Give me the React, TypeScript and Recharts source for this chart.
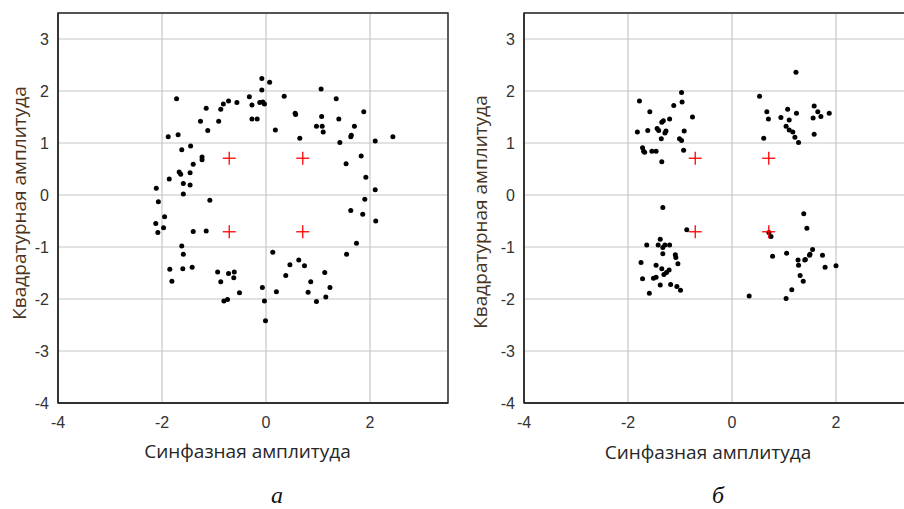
import React from 'react';
import { ScatterChart, Scatter, XAxis, YAxis, CartesianGrid, ReferenceArea } from 'recharts';

// ---------- data ----------
const xTicks = [-4, -2, 0, 2];
const yTicks = [-4, -3, -2, -1, 0, 1, 2, 3];
const axisDomain: [number, number] = [-4, 3.5];

const xLabel = 'Синфазная амплитуда';
const yLabel = 'Квадратурная амплитуда';
const captionA = 'а';
const captionB = 'б';

// ideal QPSK constellation points
const refI = [-0.707, 0.707, -0.707, 0.707];
const refQ = [0.707, 0.707, -0.707, -0.707];

// panel a: received symbols (in-phase / quadrature)
const aI = [
  -2.11, -2.07, -2.12, -2.08, -1.97, -1.95, -1.72, -1.88, -1.69, -1.62,
  -1.86, -1.67, -1.64, -1.59, -1.59, -1.46, -1.46, -1.4, -1.45, -1.23,
  -1.23, -1.26, -1.15, -1.12, -1.08, -1.4, -1.15, -1.62, -1.59, -0.91,
  -0.87, -0.82, -0.72, -0.56, -0.32, -0.27, -0.27, -0.17, -0.08, -0.08,
  -0.12, -0.06, -0.03, 0.07, 0.18, 0.35, 0.56, 0.57, 0.65, 1.06,
  1.07, 0.97, 1.08, 1.1, 1.35, 1.4, 1.42, 1.63, 1.64, 1.7,
  1.88, 2.1, 2.44, 1.54, 1.83, 1.92, 2.1, 1.9, 1.63, 1.86,
  2.11, 1.74, 1.55, 0.13, 0.63, -1.85, -1.81, -1.6, -1.42, -0.93,
  -0.87, -0.72, -0.61, -0.62, -0.51, -0.81, -0.74, -0.07, -0.03, -0.01,
  0.2, 0.38, 0.46, 0.74, 0.86, 0.81, 0.97, 1.13, 1.15, 1.23,
];
const aQ = [
  0.13, -0.13, -0.55, -0.72, -0.63, -0.42, 1.85, 1.12, 1.16, 0.87,
  0.31, 0.44, 0.4, 0.22, 0.02, 0.43, 0.19, 0.59, 0.94, 0.73,
  0.68, 1.42, 1.67, 1.24, -0.1, -0.7, -0.69, -0.98, -1.14, 1.42,
  1.65, 1.75, 1.81, 1.78, 1.89, 1.73, 1.46, 1.46, 2.24, 2.02,
  1.78, 1.79, 1.75, 2.17, 1.25, 1.9, 1.57, 1.55, 1.09, 2.04,
  1.51, 1.32, 1.32, 1.21, 1.85, 1.46, 1.01, 1.12, 1.15, 1.32,
  1.6, 1.04, 1.12, 0.6, 0.75, 0.34, 0.1, -0.08, -0.3, -0.37,
  -0.5, -0.93, -1.14, -1.1, -1.25, -1.43, -1.66, -1.42, -1.39, -1.48,
  -1.67, -1.51, -1.48, -1.59, -1.88, -2.04, -2.01, -1.78, -2.04, -2.42,
  -1.86, -1.55, -1.34, -1.36, -1.67, -1.87, -2.05, -1.49, -1.96, -1.78,
];

// panel б: received symbols (in-phase / quadrature)
const bI = [
  -1.78, -1.82, -1.62, -1.58, -1.72, -1.7, -1.68, -1.54, -1.46, -1.44,
  -1.41, -1.35, -1.32, -1.36, -1.29, -1.27, -1.35, -1.2, -1.12, -0.96,
  -0.97, -1.01, -0.97, -0.92, -0.93, -0.76,
  0.53, 0.61, 0.67, 0.7, 0.94, 1.07, 1.04, 1.1, 1.1, 1.17,
  1.21, 1.24, 1.28, 1.23, 1.56, 1.58, 1.58, 1.65, 1.71, 1.87,
  -1.33, -0.87, -1.64, -1.38, -1.42, -1.33, -1.29, -1.2, -1.09, -1.08,
  -1.33, -1.75, -1.46, -1.35, -1.21, -1.26, -1.31, -1.46, -1.51, -1.72,
  -1.04, -1.38, -1.18, -1.06, -0.99, -1.59,
  0.75, 0.71, 1.38, 1.44, 0.78, 1.05, 1.55, 1.5, 1.74, 1.27,
  1.4, 1.28, 1.41, 1.49, 1.79, 2.0, 1.31, 1.37, 1.15, 1.04,
  0.33,
];
const bQ = [
  1.81, 1.21, 1.24, 1.6, 0.91, 0.84, 0.82, 0.84, 0.84, 1.28,
  1.24, 1.4, 1.43, 1.08, 1.19, 1.23, 0.64, 1.46, 1.72, 1.79,
  1.97, 1.08, 1.05, 1.23, 0.86, 1.5,
  1.9, 1.09, 1.6, 1.46, 1.49, 1.65, 1.32, 1.44, 1.25, 1.21,
  1.11, 1.57, 1.01, 2.36, 1.48, 1.71, 1.17, 1.6, 1.51, 1.57,
  -0.24, -0.67, -0.96, -0.85, -0.96, -1.01, -0.96, -0.96, -1.15, -1.2,
  -1.13, -1.3, -1.35, -1.42, -1.44, -1.49, -1.53, -1.58, -1.6, -1.61,
  -1.32, -1.73, -1.72, -1.76, -1.83, -1.89,
  -0.8, -0.72, -0.36, -0.64, -1.18, -1.12, -1.05, -1.14, -1.16, -1.25,
  -1.25, -1.35, -1.24, -1.16, -1.39, -1.36, -1.55, -1.66, -1.82, -1.99,
  -1.94,
];

const toPoints = (xs: number[], ys: number[]) => xs.map((x, i) => ({ x, y: ys[i] }));
const refPoints = toPoints(refI, refQ);

// ---------- styles ----------
const TICK_FONT = 'Liberation Sans, Arial, sans-serif';
const LABEL_FONT = '"Open Sans", "Noto Sans", sans-serif';
const GRID = '#c6c6c6';
const FRAME = '#262626';

const Dot = (props: any) => {
  const { cx, cy } = props;
  if (cx == null || cy == null) return null;
  return <circle cx={cx} cy={cy} r={2.5} fill="#000" />;
};

const Cross = (props: any) => {
  const { cx, cy } = props;
  if (cx == null || cy == null) return null;
  const s = 6.5;
  return (
    <g stroke="#ff0000" strokeWidth={1.3}>
      <line x1={cx - s} y1={cy} x2={cx + s} y2={cy} />
      <line x1={cx} y1={cy - s} x2={cx} y2={cy + s} />
    </g>
  );
};

const tickStyle = { fill: '#333', fontSize: 16, fontFamily: TICK_FONT };

function Panel({ data }: { data: { x: number; y: number }[] }) {
  return (
    <ScatterChart
      width={460}
      height={480}
      margin={{ top: 13, right: 12, bottom: 47, left: 8 }}
    >
      <CartesianGrid stroke={GRID} strokeWidth={1.2} />
      <XAxis
        type="number"
        dataKey="x"
        domain={axisDomain}
        ticks={xTicks}
        allowDataOverflow
        height={30}
        tickLine={false}
        tickSize={0}
        tickMargin={14}
        axisLine={{ stroke: FRAME, strokeWidth: 1.4 }}
        tick={tickStyle}
      />
      <YAxis
        type="number"
        dataKey="y"
        domain={axisDomain}
        ticks={yTicks}
        allowDataOverflow
        width={50}
        tickLine={false}
        tickSize={0}
        tickMargin={9}
        axisLine={{ stroke: FRAME, strokeWidth: 1.4 }}
        tick={tickStyle}
      />
      <ReferenceArea
        x1={axisDomain[0]}
        x2={axisDomain[1]}
        y1={axisDomain[0]}
        y2={axisDomain[1]}
        fill="none"
        fillOpacity={0}
        stroke={FRAME}
        strokeWidth={1.4}
        strokeOpacity={1}
      />
      <Scatter data={data} shape={Dot} isAnimationActive={false} />
      <Scatter data={refPoints} shape={Cross} isAnimationActive={false} />
    </ScatterChart>
  );
}

export default function App() {
  return (
    <div
      style={{
        position: 'absolute',
        left: 0,
        top: 0,
        width: 904,
        height: 509,
        overflow: 'hidden',
        background: '#fff',
      }}
    >
      <div style={{ position: 'absolute', left: 0, top: 0 }}>
        <Panel data={toPoints(aI, aQ)} />
      </div>
      <div style={{ position: 'absolute', left: 466, top: 0 }}>
        <Panel data={toPoints(bI, bQ)} />
      </div>
      <svg
        width={904}
        height={509}
        style={{ position: 'absolute', left: 0, top: 0, pointerEvents: 'none' }}
      >
        <g fill="#262626" fontFamily={LABEL_FONT} fontSize={19}>
          <text x={247.5} y={458} textAnchor="middle">{xLabel}</text>
          <text x={708} y={459} textAnchor="middle">{xLabel}</text>
          <text
            x={0}
            y={0}
            textAnchor="middle"
            dominantBaseline="central"
            transform="translate(18.5 203) rotate(-90)"
            fill="#4a3320"
          >
            {yLabel}
          </text>
          <text
            x={0}
            y={0}
            textAnchor="middle"
            dominantBaseline="central"
            transform="translate(480 212) rotate(-90)"
            fill="#4a3320"
          >
            {yLabel}
          </text>
        </g>
        <g fill="#111" fontFamily="Liberation Serif, Times New Roman, serif" fontStyle="italic" fontSize={24}>
          <text x={277} y={503} textAnchor="middle">{captionA}</text>
          <text x={718} y={503} textAnchor="middle">{captionB}</text>
        </g>
      </svg>
    </div>
  );
}
